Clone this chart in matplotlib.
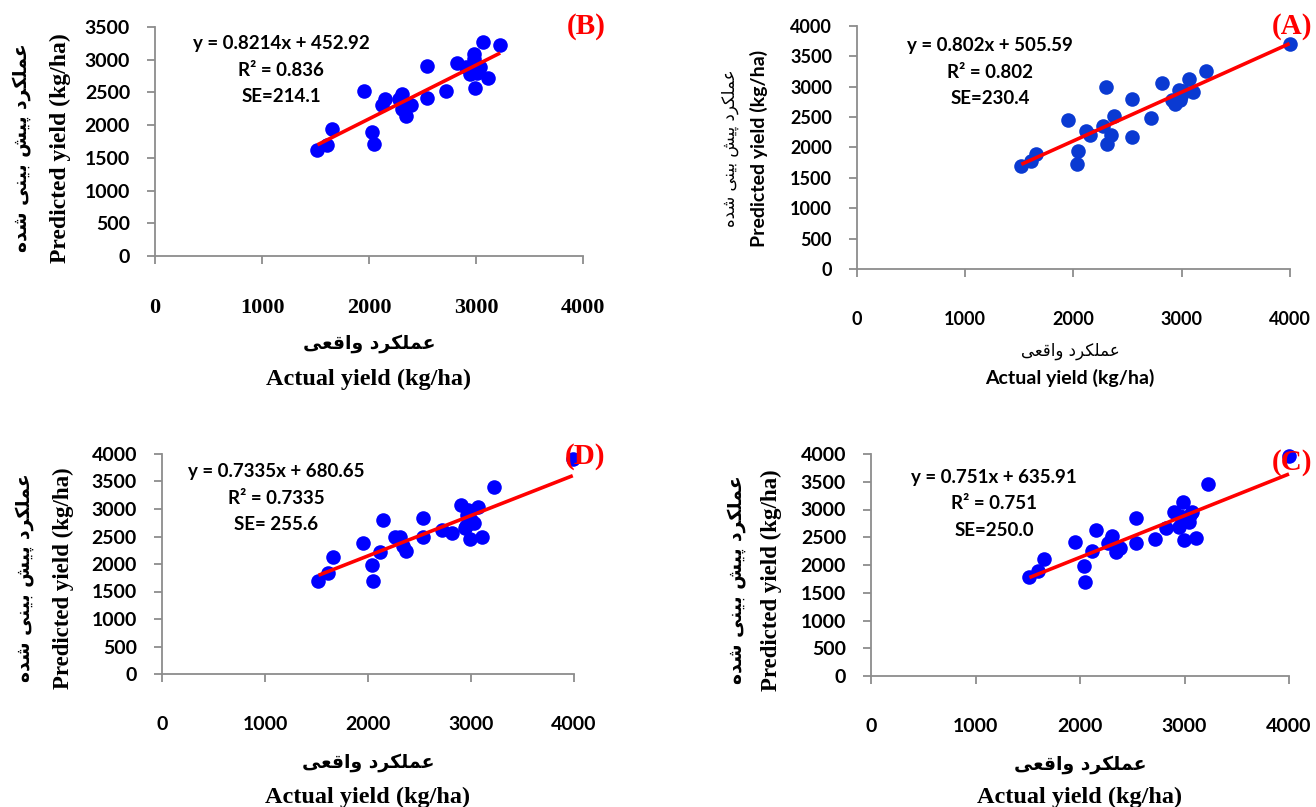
import matplotlib
matplotlib.use("Agg")
import matplotlib.pyplot as plt
import numpy as np

# ---------------- data ----------------
actual_A = [1518, 1606, 1653, 1950, 2031, 2046, 2112, 2152, 2269, 2302, 2310, 2346, 2376, 2537, 2537,
            2717, 2816, 2907, 2937, 2960, 2970, 2981, 2992, 3000, 3010, 3065, 3102, 3223, 3996]
pred_A = [1690, 1784, 1899, 2459, 1723, 1937, 2277, 2201, 2360, 2997, 2058, 2201, 2525, 2805, 2179,
          2481, 3057, 2788, 2722, 2760, 2953, 2788, 2843, 2900, 2925, 3134, 2920, 3266, 3705]

actual_B = [1518, 1604, 1656, 1953, 2032, 2047, 2121, 2151, 2277, 2307, 2307, 2344, 2388, 2538, 2538,
            2720, 2824, 2902, 2947, 2960, 2980, 2984, 2995, 3010, 3033, 3062, 3110, 3226]
pred_B = [1613, 1704, 1937, 2520, 1902, 1719, 2313, 2399, 2399, 2475, 2246, 2145, 2307, 2900, 2409,
          2515, 2956, 2890, 2779, 2840, 3083, 3007, 2566, 2800, 2890, 3271, 2728, 3220]

actual_C = [1516, 1599, 1660, 1953, 2036, 2047, 2112, 2150, 2272, 2300, 2310, 2348, 2386, 2537, 2537,
            2720, 2822, 2902, 2944, 2960, 2982, 2993, 3012, 3039, 3050, 3069, 3107, 3225, 4000]
pred_C = [1778, 1892, 2102, 2414, 1982, 1700, 2252, 2631, 2390, 2450, 2523, 2240, 2300, 2841, 2402,
          2468, 2661, 2961, 2691, 2880, 3141, 2450, 2811, 2781, 2900, 2961, 2480, 3453, 3964]

actual_D = [1519, 1608, 1662, 1954, 2035, 2046, 2112, 2150, 2265, 2308, 2342, 2373, 2538, 2538,
            2715, 2819, 2900, 2938, 2950, 2960, 2969, 2988, 3000, 3031, 3065, 3108, 3223, 3988]
pred_D = [1697, 1830, 2121, 2388, 1988, 1685, 2224, 2800, 2485, 2485, 2327, 2236, 2830, 2485,
          2618, 2558, 3073, 2648, 2700, 2900, 2982, 2448, 2800, 2739, 3030, 2485, 3406, 3903]

slopes = {"A": 0.802, "B": 0.8214, "C": 0.751, "D": 0.7335}
intercepts = {"A": 505.59, "B": 452.92, "C": 635.91, "D": 680.65}
eq_text = {"A": "y = 0.802x + 505.59", "B": "y = 0.8214x + 452.92",
           "C": "y = 0.751x + 635.91", "D": "y = 0.7335x + 680.65"}
r2_text = {"A": "R² = 0.802", "B": "R² = 0.836", "C": "R² = 0.751", "D": "R² = 0.7335"}
se_text = {"A": "SE=230.4", "B": "SE=214.1", "C": "SE=250.0", "D": "SE= 255.6"}

x_ticks = [0, 1000, 2000, 3000, 4000]
y_ticks_B = [0, 500, 1000, 1500, 2000, 2500, 3000, 3500]
y_ticks_other = [0, 500, 1000, 1500, 2000, 2500, 3000, 3500, 4000]

fa_pred = "عملکرد پیش بینی شده"
fa_actual = "عملکرد واقعی"
en_pred = "Predicted yield (kg/ha)"
en_actual = "Actual yield (kg/ha)"

# ---------------- minimal Persian shaping (no external libs) ----------------
FORMS = {
    'ا': ('\uFE8D', '\uFE8E', None, None),
    'ب': ('\uFE8F', '\uFE90', '\uFE91', '\uFE92'),
    'پ': ('\uFB56', '\uFB57', '\uFB58', '\uFB59'),
    'د': ('\uFEA9', '\uFEAA', None, None),
    'ر': ('\uFEAD', '\uFEAE', None, None),
    'ش': ('\uFEB5', '\uFEB6', '\uFEB7', '\uFEB8'),
    'ع': ('\uFEC9', '\uFECA', '\uFECB', '\uFECC'),
    'ق': ('\uFED5', '\uFED6', '\uFED7', '\uFED8'),
    'ک': ('\uFB8E', '\uFB8F', '\uFB90', '\uFB91'),
    'ل': ('\uFEDD', '\uFEDE', '\uFEDF', '\uFEE0'),
    'م': ('\uFEE1', '\uFEE2', '\uFEE3', '\uFEE4'),
    'ن': ('\uFEE5', '\uFEE6', '\uFEE7', '\uFEE8'),
    'ه': ('\uFEE9', '\uFEEA', '\uFEEB', '\uFEEC'),
    'و': ('\uFEED', '\uFEEE', None, None),
    'ی': ('\uFBFC', '\uFBFD', '\uFBFE', '\uFBFF'),
}


def shape_fa(text):
    out = []
    n = len(text)
    for i, ch in enumerate(text):
        if ch not in FORMS:
            out.append(ch)
            continue
        prev = text[i - 1] if i > 0 else None
        nxt = text[i + 1] if i < n - 1 else None
        join_prev = prev in FORMS and FORMS[prev][2] is not None
        join_next = nxt in FORMS and FORMS[ch][2] is not None
        iso, fin, ini, med = FORMS[ch]
        if join_prev and join_next:
            out.append(med)
        elif join_prev:
            out.append(fin)
        elif join_next:
            out.append(ini)
        else:
            out.append(iso)
    return "".join(out)[::-1]


# ---------------- figure ----------------
W, H = 1316, 807
fig = plt.figure(figsize=(W / 100, H / 100), dpi=100)
fig.patch.set_facecolor("white")

SANS = ["Lato", "DejaVu Sans"]
SERIF = ["Liberation Serif", "DejaVu Serif"]
FA = ["DejaVu Sans"]
GRAY = "#8c8c8c"


def fx(px):
    return px / W


def fy(py):
    return 1 - py / H


panels = {
    "B": dict(x=actual_B, y=pred_B, rect=(155, 583, 27, 256), yticks=y_ticks_B, ymax=3500,
              color="#0000ff", ytick_font=SANS, xtick_font=SERIF, ytick_size=14, xtick_size=16,
              eq_xy=(281, 44), label_xy=(586, 26),
              yl_fa=(22, 148, 13.5, "bold"), yl_en=(60, 148, 17, SERIF),
              xl_fa=(369, 343, 13.5, "bold"), xl_en=(369, 379, 17.5, SERIF)),
    "A": dict(x=actual_A, y=pred_A, rect=(857, 1290, 26, 269), yticks=y_ticks_other, ymax=4000,
              color="#0a3ad2", ytick_font=SANS, xtick_font=SANS, ytick_size=13, xtick_size=13,
              eq_xy=(990, 46), label_xy=(1292, 27),
              yl_fa=(730, 148, 12, "normal"), yl_en=(759, 148, 14, SANS),
              xl_fa=(1070, 351, 12, "normal"), xl_en=(1070, 378, 14, SANS)),
    "D": dict(x=actual_D, y=pred_D, rect=(162, 574, 454, 674), yticks=y_ticks_other, ymax=4000,
              color="#0000ff", ytick_font=SANS, xtick_font=SANS, ytick_size=14, xtick_size=14,
              eq_xy=(276, 472), label_xy=(585, 456),
              yl_fa=(25, 578, 13.5, "bold"), yl_en=(63, 578, 16.5, SERIF),
              xl_fa=(368, 762, 13.5, "bold"), xl_en=(368, 797, 17.5, SERIF)),
    "C": dict(x=actual_C, y=pred_C, rect=(871, 1289, 454, 676), yticks=y_ticks_other, ymax=4000,
              color="#0000ff", ytick_font=SANS, xtick_font=SANS, ytick_size=14, xtick_size=14,
              eq_xy=(994, 477), label_xy=(1292, 463),
              yl_fa=(736, 580, 13.5, "bold"), yl_en=(771, 580, 16.5, SERIF),
              xl_fa=(1080, 764, 13.5, "bold"), xl_en=(1080, 797, 17.5, SERIF)),
}

for key, p in panels.items():
    x0, x1, yt, yb = p["rect"]
    ax = fig.add_axes([fx(x0), fy(yb), (x1 - x0) / W, (yb - yt) / H])
    ax.set_xlim(0, 4000)
    ax.set_ylim(0, p["ymax"])
    ax.set_facecolor("none")
    for s in ("top", "right"):
        ax.spines[s].set_visible(False)
    for s in ("left", "bottom"):
        ax.spines[s].set_color(GRAY)
        ax.spines[s].set_linewidth(1.3)
    ax.set_xticks(x_ticks)
    ax.set_yticks(p["yticks"])
    ax.tick_params(axis="x", direction="out", length=6, width=1.3, color=GRAY, pad=24)
    ax.tick_params(axis="y", direction="out", length=6, width=1.3, color=GRAY, pad=12)
    ax.set_xticklabels([str(v) for v in x_ticks], fontfamily=p["xtick_font"],
                       fontweight="bold", fontsize=p["xtick_size"])
    ax.set_yticklabels([str(v) for v in p["yticks"]], fontfamily=p["ytick_font"],
                       fontweight="bold", fontsize=p["ytick_size"])

    xs = np.array(p["x"], dtype=float)
    ys = np.array(p["y"], dtype=float)
    ax.scatter(xs, ys, s=110, color=p["color"], zorder=3, linewidths=0, clip_on=False)
    lx = np.array([xs.min(), xs.max()])
    ax.plot(lx, slopes[key] * lx + intercepts[key], color="#ff0000", lw=2.6,
            zorder=4, solid_capstyle="butt", clip_on=False)

    ex, ey = p["eq_xy"]
    for i, t in enumerate([eq_text[key], r2_text[key], se_text[key]]):
        fig.text(fx(ex), fy(ey + i * 26.5), t, ha="center", va="center",
                 fontfamily=SANS, fontweight="bold", fontsize=13.5, color="black")

    lx_, ly_ = p["label_xy"]
    fig.text(fx(lx_), fy(ly_), f"({key})", ha="center", va="center", color="#ff0000",
             fontfamily=SERIF, fontweight="bold", fontsize=21)

    # y labels
    px, py, fs, fw = p["yl_fa"]
    fig.text(fx(px), fy(py), shape_fa(fa_pred), rotation=90, ha="center", va="center",
             fontfamily=FA, fontweight=fw, fontsize=fs)
    px, py, fs, ff = p["yl_en"]
    fig.text(fx(px), fy(py), en_pred, rotation=90, ha="center", va="center",
             fontfamily=ff, fontweight="bold", fontsize=fs)
    # x labels
    px, py, fs, fw = p["xl_fa"]
    fig.text(fx(px), fy(py), shape_fa(fa_actual), ha="center", va="center",
             fontfamily=FA, fontweight=fw, fontsize=fs)
    px, py, fs, ff = p["xl_en"]
    fig.text(fx(px), fy(py), en_actual, ha="center", va="center",
             fontfamily=ff, fontweight="bold", fontsize=fs)

fig.savefig("out.png", dpi=100, facecolor="white")
